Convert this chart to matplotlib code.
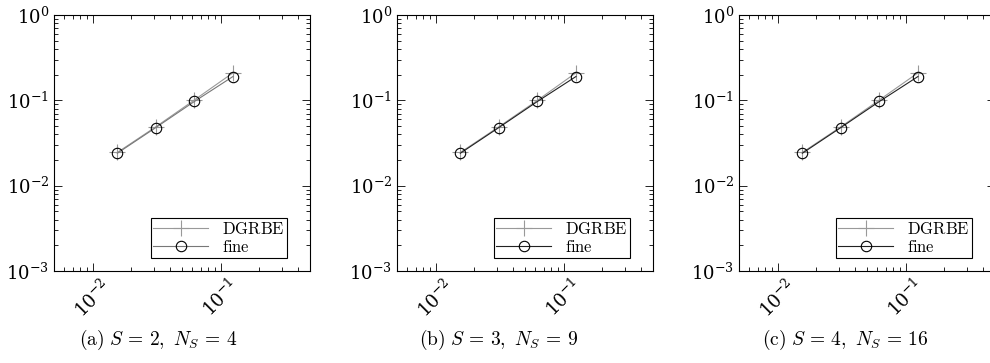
import numpy as np
import matplotlib.pyplot as plt
from matplotlib.ticker import LogLocator, NullFormatter

plt.rcParams['mathtext.fontset'] = 'cm'
plt.rcParams['font.family'] = 'DejaVu Serif'

# mesh size h and errors
h = [1 / 64, 1 / 32, 1 / 16, 1 / 8]
dgrbe = {
    'a': [0.0245, 0.049, 0.101, 0.21],
    'b': [0.0245, 0.049, 0.100, 0.21],
    'c': [0.0245, 0.049, 0.101, 0.21],
}
fine = {
    'a': [0.024, 0.048, 0.097, 0.19],
    'b': [0.024, 0.048, 0.097, 0.19],
    'c': [0.024, 0.048, 0.097, 0.19],
}
captions = {
    'a': r'$\mathrm{(a)}\ S\, =\, 2,\ N_S\, =\, 4$',
    'b': r'$\mathrm{(b)}\ S\, =\, 3,\ N_S\, =\, 9$',
    'c': r'$\mathrm{(c)}\ S\, =\, 4,\ N_S\, =\, 16$',
}
fine_color = {'a': '#777777', 'b': '#222222', 'c': '#222222'}

W, H = 990, 363
fig = plt.figure(figsize=(W / 100, H / 100), dpi=100)

lefts = {'a': 54, 'b': 397, 'c': 739}
cap_x = {'a': 158, 'b': 499, 'c': 845}
top, bottom, width = 15, 271, 256

for key in ['a', 'b', 'c']:
    ax = fig.add_axes([lefts[key] / W, 1 - bottom / H, width / W, (bottom - top) / H])
    ax.set_xscale('log')
    ax.set_yscale('log')
    ax.plot(h, dgrbe[key], color='#999999', lw=0.8, marker='+', ms=12,
            mew=0.8, label=r'$\mathrm{DGRBE}$')
    ax.plot(h, fine[key], color=fine_color[key], lw=0.8, marker='o', ms=7.5,
            mfc='none', mec='black', mew=0.8, label=r'$\mathrm{fine}$')
    ax.set_xlim(0.005, 0.5)
    ax.set_ylim(1e-3, 1)
    ax.xaxis.set_major_locator(LogLocator(base=10, numticks=10))
    ax.xaxis.set_minor_locator(LogLocator(base=10, subs=np.arange(2, 10), numticks=20))
    ax.yaxis.set_minor_locator(LogLocator(base=10, subs=np.arange(2, 10), numticks=20))
    ax.xaxis.set_minor_formatter(NullFormatter())
    ax.yaxis.set_minor_formatter(NullFormatter())
    ax.tick_params(which='both', direction='in', top=True, right=True, width=0.6)
    ax.tick_params(which='major', length=6, labelsize=13)
    ax.tick_params(which='minor', length=3)
    plt.setp(ax.get_xticklabels(), rotation=45, ha='center', va='top')
    for sp in ax.spines.values():
        sp.set_linewidth(0.8)
    leg = ax.legend(loc='lower right', bbox_to_anchor=(0.91, 0.05), fontsize=12,
                    fancybox=False, framealpha=1, edgecolor='black', handlelength=3.3,
                    borderpad=0.15, labelspacing=0.05, borderaxespad=0.0,
                    handletextpad=0.8)
    leg.get_frame().set_linewidth(0.8)
    fig.text(cap_x[key] / W, 1 - 340 / H, captions[key], ha='center', va='center',
             fontsize=14)

fig.savefig('out.png', dpi=100)
